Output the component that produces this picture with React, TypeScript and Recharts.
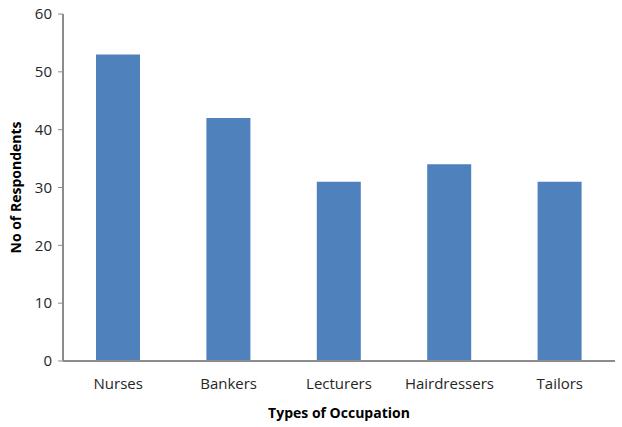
import React from "react";
import { BarChart, Bar, XAxis, YAxis, Label } from "recharts";

const categories = ["Nurses", "Bankers", "Lecturers", "Hairdressers", "Tailors"];
const respondents = [53, 42, 31, 34, 31];
const yTicks = [0, 10, 20, 30, 40, 50, 60];

const data = categories.map((c, i) => ({ name: c, value: respondents[i] }));

const font = "'Open Sans', sans-serif";

export default function App() {
  return (
    <div style={{ position: "absolute", left: 0, top: 0, width: 622, height: 427, background: "#fff" }}>
      <BarChart
        width={622}
        height={427}
        data={data}
        margin={{ top: 14, right: 7, bottom: 0, left: 0 }}
      >
        <XAxis
          dataKey="name"
          height={66}
          tickLine={false}
          axisLine={{ stroke: "#8c8c8c", strokeWidth: 2 }}
          tick={{ fill: "#262626", fontSize: 15, fontFamily: font }}
          tickMargin={11}
        >
          <Label
            value="Types of Occupation"
            position="insideBottom"
            offset={9}
            style={{ fill: "#000", fontSize: 14, fontWeight: "bold", fontFamily: font }}
          />
        </XAxis>
        <YAxis
          width={63}
          domain={[0, 60]}
          ticks={yTicks}
          interval={0}
          tickSize={5}
          tickLine={{ stroke: "#8c8c8c" }}
          axisLine={{ stroke: "#8c8c8c", strokeWidth: 2 }}
          tick={{ fill: "#262626", fontSize: 15, fontFamily: font }}
          tickMargin={6}
        >
          <Label
            value="No of Respondents"
            angle={-90}
            position="insideLeft"
            offset={16}
            style={{ fill: "#000", fontSize: 14, fontWeight: "bold", fontFamily: font, textAnchor: "middle" }}
          />
        </YAxis>
        <Bar dataKey="value" fill="#4f81bd" isAnimationActive={false} barSize={44} />
      </BarChart>
    </div>
  );
}
